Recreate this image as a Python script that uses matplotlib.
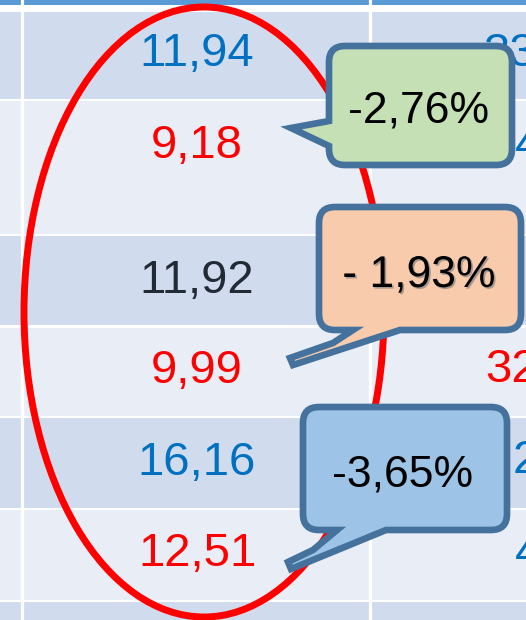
import matplotlib
matplotlib.use("Agg")
import matplotlib.pyplot as plt
from matplotlib.patches import Ellipse, PathPatch
from matplotlib.path import Path
import matplotlib.patheffects as pe

# ---- data ----
values_before = [11.94, 11.92, 16.16]
values_after = [9.18, 9.99, 12.51]
before_colors = ["#0070C0", "#222A35", "#0070C0"]
changes = ["-2,76%", "- 1,93%", "-3,65%"]
callout_colors = ["#C5E0B4", "#F8CBAD", "#9DC3E6"]
right_col_texts = ["33", "4", "32", "2", "4"]
right_col_colors = ["#0070C0", "#0070C0", "#FF0000", "#0070C0", "#0070C0"]


def fmt(v):
    return f"{v:.2f}".replace(".", ",")


plt.rcParams['font.family'] = ['Liberation Sans', 'DejaVu Sans']

fig = plt.figure(figsize=(5.26, 6.2), dpi=100)
fig.patch.set_facecolor("white")
ax = fig.add_axes([0, 0, 1, 1])
ax.set_xlim(0, 526)
ax.set_ylim(620, 0)
ax.axis("off")

# ---- table background ----
dark = "#D0DCEE"
light = "#E9EEF6"
ax.axhspan(0, 5, color="#5B9BD5", lw=0)
bands = [(12, 99, dark), (101, 234, light), (236, 325, dark), (328, 416, light),
         (418, 508, dark), (510, 600, light), (602, 620, dark)]
for y0, y1, c in bands:
    ax.axhspan(y0, y1, color=c, lw=0)
for xv in (21.5, 369.5):
    ax.axvline(xv, color="white", lw=2.3)

# ---- cell values ----
col_x = 197
before_base = [66, 293, 475]
after_base = [158, 383, 566]
for i in range(3):
    ax.text(col_x, before_base[i], fmt(values_before[i]), ha="center", va="baseline",
            fontsize=34, color=before_colors[i])
    ax.text(col_x, after_base[i], fmt(values_after[i]), ha="center", va="baseline",
            fontsize=34, color="#FF0000")

right_pos = [(483, 66), (515, 158), (485, 382), (513, 473), (515, 566)]
for (x, y), t, c in zip(right_pos, right_col_texts, right_col_colors):
    ax.text(x, y, t, ha="left", va="baseline", fontsize=34, color=c, clip_on=True)

# ---- red ellipse ----
ax.add_patch(Ellipse((204, 312), 360, 610, fill=False, ec="#FF0000", lw=5.0, zorder=3))


# ---- callouts ----
def callout(x0, y0, x1, y1, r, side, tail, fc):
    verts, codes = [], []

    def add(p, c=Path.LINETO):
        verts.append(p)
        codes.append(c)

    add((x0 + r, y0), Path.MOVETO)
    add((x1 - r, y0))
    add((x1, y0), Path.CURVE3); add((x1, y0 + r), Path.CURVE3)
    add((x1, y1 - r))
    add((x1, y1), Path.CURVE3); add((x1 - r, y1), Path.CURVE3)
    if side == "bottom":
        for p in tail:
            add(p)
    add((x0 + r, y1))
    add((x0, y1), Path.CURVE3); add((x0, y1 - r), Path.CURVE3)
    if side == "left":
        for p in tail:
            add(p)
    add((x0, y0 + r))
    add((x0, y0), Path.CURVE3); add((x0 + r, y0), Path.CURVE3)
    add((x0 + r, y0), Path.CLOSEPOLY)
    ax.add_patch(PathPatch(Path(verts, codes), fc=fc, ec="#44729D", lw=4.8,
                           joinstyle="miter", zorder=5))


boxes = [(329, 46, 512, 165), (319, 207, 521, 330), (303, 407, 507, 530)]
sides = ["left", "bottom", "bottom"]
tails = [
    [(329, 146), (291, 128), (329, 121)],
    [(400, 330), (293, 365), (290, 358), (333, 343), (353, 330)],
    [(386, 530), (291, 569), (288, 562), (313, 550), (337, 530)],
]
for (x0, y0, x1, y1), s, t, fc in zip(boxes, sides, tails, callout_colors):
    callout(x0, y0, x1, y1, 16, s, t, fc)

text_pos = [(419, 123), (419, 287), (403, 486)]
for i, ((x, y), t) in enumerate(zip(text_pos, changes)):
    kw = {}
    if i == 1:
        kw["path_effects"] = [pe.withSimplePatchShadow(offset=(1.2, -1.2),
                                                       shadow_rgbFace="#777777", alpha=0.6)]
    ax.text(x, y, t, ha="center", va="baseline", fontsize=32, color="black", zorder=6, **kw)

fig.savefig("out.png", dpi=100, facecolor="white")
